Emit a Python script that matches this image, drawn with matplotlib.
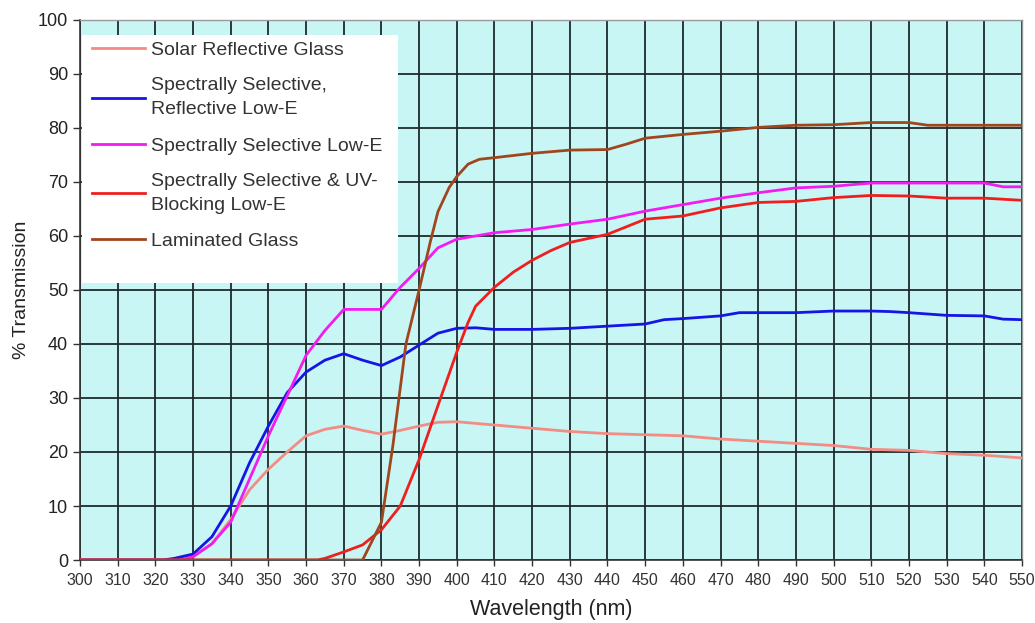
import matplotlib
matplotlib.use("Agg")
import matplotlib.pyplot as plt
from matplotlib.patches import Rectangle

plt.rcParams['font.family'] = ['Liberation Sans', 'DejaVu Sans']

# ---- data ----
solar_x = [300, 320, 325, 330, 335, 340, 345, 350, 355, 360, 365, 370, 375, 380, 385, 390, 395, 400,
           410, 420, 430, 440, 450, 460, 470, 480, 490, 500, 510, 520, 530, 540, 550]
solar_y = [0, 0, 0.1, 0.6, 3.0, 7.5, 13.0, 16.8, 20.0, 23.0, 24.2, 24.8, 24.0, 23.3, 24.0, 24.8, 25.5, 25.6,
           25.0, 24.4, 23.8, 23.4, 23.2, 23.0, 22.4, 22.0, 21.6, 21.2, 20.5, 20.3, 19.7, 19.4, 18.9]

blue_x = [300, 322, 325, 330, 335, 340, 345, 350, 355, 360, 365, 370, 375, 380, 385, 390, 395, 400, 405,
          410, 420, 430, 440, 450, 455, 460, 470, 475, 480, 490, 500, 510, 515, 520, 530, 540, 545, 550]
blue_y = [0, 0, 0.3, 1.1, 4.3, 10.0, 18.0, 24.8, 31.0, 34.8, 37.0, 38.2, 37.0, 36.0, 37.6, 39.8, 42.0, 42.9, 43.0,
          42.7, 42.7, 42.9, 43.3, 43.7, 44.5, 44.7, 45.2, 45.8, 45.8, 45.8, 46.1, 46.1, 46.0, 45.8, 45.3, 45.2, 44.6, 44.5]

magenta_x = [300, 327, 330, 335, 340, 345, 350, 355, 360, 365, 370, 380, 385, 390, 395, 400,
             410, 420, 430, 440, 450, 460, 470, 480, 490, 500, 510, 520, 530, 540, 545, 550]
magenta_y = [0, 0, 0.6, 3.0, 7.0, 15.0, 23.0, 30.4, 37.9, 42.5, 46.4, 46.4, 50.5, 54.0, 57.8, 59.4,
             60.6, 61.2, 62.2, 63.1, 64.6, 65.8, 67.0, 68.0, 68.9, 69.2, 69.8, 69.8, 69.8, 69.8, 69.1, 69.1]

red_x = [300, 363, 365, 370, 375, 380, 385, 390, 395, 400, 403, 405, 410, 415, 420, 425, 430,
         440, 450, 460, 470, 480, 490, 500, 510, 520, 530, 540, 550]
red_y = [0, 0, 0.3, 1.5, 2.8, 5.6, 10.0, 18.6, 28.6, 38.5, 44.0, 47.0, 50.5, 53.3, 55.5, 57.3, 58.8,
         60.3, 63.1, 63.7, 65.2, 66.2, 66.4, 67.1, 67.5, 67.4, 67.0, 67.0, 66.6]

brown_x = [300, 375, 380, 383, 386.5, 390, 393, 395, 398, 400, 403, 406, 410, 420, 430, 440, 445,
           450, 460, 470, 480, 490, 500, 510, 520, 525, 530, 540, 550]
brown_y = [0, 0, 7.0, 21.0, 40.0, 50.0, 59.0, 64.5, 69.0, 71.0, 73.3, 74.2, 74.5, 75.3, 75.9, 76.0, 77.0,
           78.1, 78.8, 79.4, 80.1, 80.5, 80.6, 81.0, 81.0, 80.5, 80.5, 80.5, 80.5]

series_labels = ["Solar Reflective Glass",
                 "Spectrally Selective,\nReflective Low-E",
                 "Spectrally Selective Low-E",
                 "Spectrally Selective & UV-\nBlocking Low-E",
                 "Laminated Glass"]
series_colors = ["#f28c84", "#1515e6", "#f21cf2", "#f01e1e", "#a0461e"]

x_ticks = list(range(300, 551, 10))
y_ticks = list(range(0, 101, 10))

# ---- figure ----
fig = plt.figure(figsize=(10.35, 6.23), dpi=100)
ax = fig.add_axes([0.0773, 0.1011, 0.9101, 0.8669])
ax.set_facecolor("#c8f6f4")

ax.set_xlim(300, 550)
ax.set_ylim(0, 100)
ax.set_xticks(x_ticks)
ax.set_yticks(y_ticks)
ax.set_xticklabels([str(t) for t in x_ticks], fontsize=11.5, color="#333333")
ax.set_yticklabels([str(t) for t in y_ticks], fontsize=13, color="#222222")
ax.tick_params(axis='x', direction='out', length=4, width=1.0, color="#333333", pad=5)
ax.tick_params(axis='y', direction='out', length=5, width=1.0, color="#333333", pad=3.5)
ax.grid(True, color="#1e2a2a", linewidth=1.3, zorder=1)
ax.set_axisbelow(True)
for side in ["top", "right"]:
    ax.spines[side].set_color("#999999")
    ax.spines[side].set_linewidth(1.0)
for side in ["left", "bottom"]:
    ax.spines[side].set_color("#333333")
    ax.spines[side].set_linewidth(1.2)

ax.set_xlabel("Wavelength (nm)", fontsize=15.5, color="#222222", labelpad=8)
ax.set_ylabel("% Transmission", fontsize=14, color="#222222", labelpad=6)

# legend background box
ax.add_patch(Rectangle((0.002, 0.513), 0.3355, 0.459, transform=ax.transAxes,
                       facecolor="white", edgecolor="none", zorder=2))

data = [(solar_x, solar_y), (blue_x, blue_y), (magenta_x, magenta_y), (red_x, red_y), (brown_x, brown_y)]
handles = []
for (xs, ys), lab, col in zip(data, series_labels, series_colors):
    h, = ax.plot(xs, ys, color=col, linewidth=2.0, label=lab, zorder=3, solid_joinstyle='round')
    handles.append(h)

leg = ax.legend(handles=handles, loc="upper left", bbox_to_anchor=(0.005, 0.975),
                frameon=False, fontsize=14, handlelength=2.7, handletextpad=0.3,
                labelspacing=0.95, borderaxespad=0,
                prop={'size': 14})
for t in leg.get_texts():
    t.set_color("#333333")
    t.set_linespacing(1.55)

fig.savefig("out.png", dpi=100)
